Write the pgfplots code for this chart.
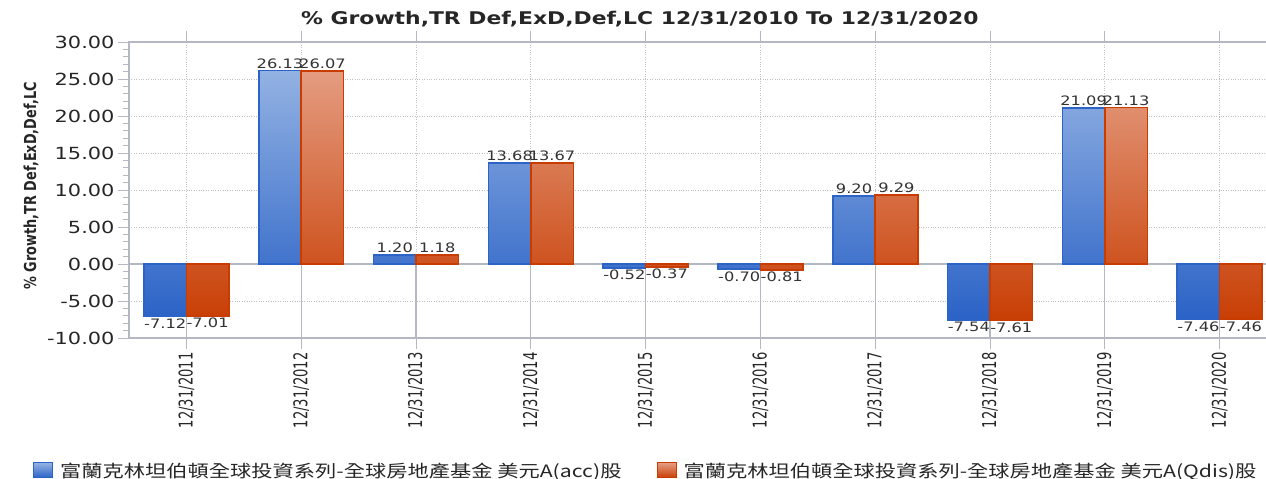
\documentclass[border=0pt]{standalone}
\usepackage{pgfplots}
\pgfplotsset{compat=1.18}
\usepackage{fontspec}
\setmainfont{DejaVu Sans}[FakeStretch=1.25]
\newfontfamily\rotfont{DejaVu Sans}[FakeStretch=0.69]
\newfontfamily\ylabfont{DejaVu Sans}[FakeStretch=0.78]
\newfontfamily\cjk{Noto Sans CJK TC}[FakeStretch=1.25]
\definecolor{bborder}{HTML}{2B63C6}
\definecolor{btop}{HTML}{93B2E3}
\definecolor{bbot}{HTML}{2A62C6}
\definecolor{oborder}{HTML}{C83C00}
\definecolor{otop}{HTML}{E49C80}
\definecolor{obot}{HTML}{C83E04}
\definecolor{axgray}{HTML}{B4B8C2}
\pgfplotstableread{
x y
0 -7.12
1 26.13
2 1.20
3 13.68
4 -0.52
5 -0.70
6 9.20
7 -7.54
8 21.09
9 -7.46
}\accdata
\pgfplotstableread{
x y
0 -7.01
1 26.07
2 1.18
3 13.67
4 -0.37
5 -0.81
6 9.29
7 -7.61
8 21.13
9 -7.46
}\qdisdata
\begin{document}
\begin{tikzpicture}
\useasboundingbox (0,0) rectangle (1266pt,479pt);
\begin{axis}[
  at={(129pt,141pt)}, anchor=south west,
  scale only axis, width=1148pt, height=296pt,
  xmin=-0.5, xmax=9.5, ymin=-10, ymax=30,
  ybar=0pt, bar width=0.37,
  xtick={0,...,9},
  xticklabels={12/31/2011,12/31/2012,12/31/2013,12/31/2014,12/31/2015,12/31/2016,12/31/2017,12/31/2018,12/31/2019,12/31/2020},
  xticklabel style={rotate=90, anchor=east, font=\rotfont\fontsize{19}{19}\selectfont, text=black!85},
  ytick={-10,-5,...,30},
  minor y tick num=4,
  yticklabel style={/pgf/number format/fixed, /pgf/number format/fixed zerofill, /pgf/number format/precision=2, /pgf/number format/assume math mode=true, font=\fontsize{16.7}{18}\selectfont, text=black!85},
  tick align=outside,
  major tick length=11pt, minor tick length=6pt,
  tick style={axgray, line width=1pt},
  axis line style={axgray, line width=1.2pt},
  grid=major,
  major grid style={dotted, gray!50, line width=0.8pt},
  title={\% Growth,TR Def,ExD,Def,LC 12/31/2010 To 12/31/2020},
  title style={font=\bfseries\fontsize{17.5}{20}\selectfont, at={(axis description cs:0.445,1.057)}, anchor=center, text=black!85},
  ylabel={\% Growth,TR Def,ExD,Def,LC},
  ylabel style={font=\ylabfont\bfseries\fontsize{16.5}{18}\selectfont, at={(axis description cs:-0.0854,0.514)}, anchor=center, text=black!85},
  nodes near coords={\pgfmathprintnumber[fixed,fixed zerofill,precision=2,assume math mode=true]{\pgfplotspointmeta}},
  every node near coord/.append style={font=\fontsize{13}{14}\selectfont, text=black!80, inner sep=1.5pt},
  legend columns=2,
  legend style={at={(axis description cs:-0.0836,-0.449)}, anchor=west, draw=none, fill=none, inner sep=0pt,
    font=\cjk\fontsize{17}{18}\selectfont, text=black!85,
    /tikz/every odd column/.append style={column sep=5pt},
    /tikz/every even column/.append style={column sep=33pt}},
  legend image code/.code={\draw[#1, line width=1pt] (0pt,-7pt) rectangle (19pt,8pt);},
]
\pgfplotsinvokeforeach{0,...,9}{
  \draw[axgray, line width=1.2pt] (axis cs:#1,-10) -- (axis cs:#1,0);
}
\draw[axgray, line width=1.2pt] (axis cs:-0.5,0) -- (axis cs:9.5,0);
\addplot[draw=bborder, line width=1.6pt, top color=btop, bottom color=bbot] table[x=x,y=y] {\accdata};
\addlegendentry{富蘭克林坦伯頓全球投資系列-全球房地產基金 美元A(acc)股}
\addplot[draw=oborder, line width=1.6pt, top color=otop, bottom color=obot] table[x=x,y=y] {\qdisdata};
\addlegendentry{富蘭克林坦伯頓全球投資系列-全球房地產基金 美元A(Qdis)股}
\end{axis}
\end{tikzpicture}
\end{document}
